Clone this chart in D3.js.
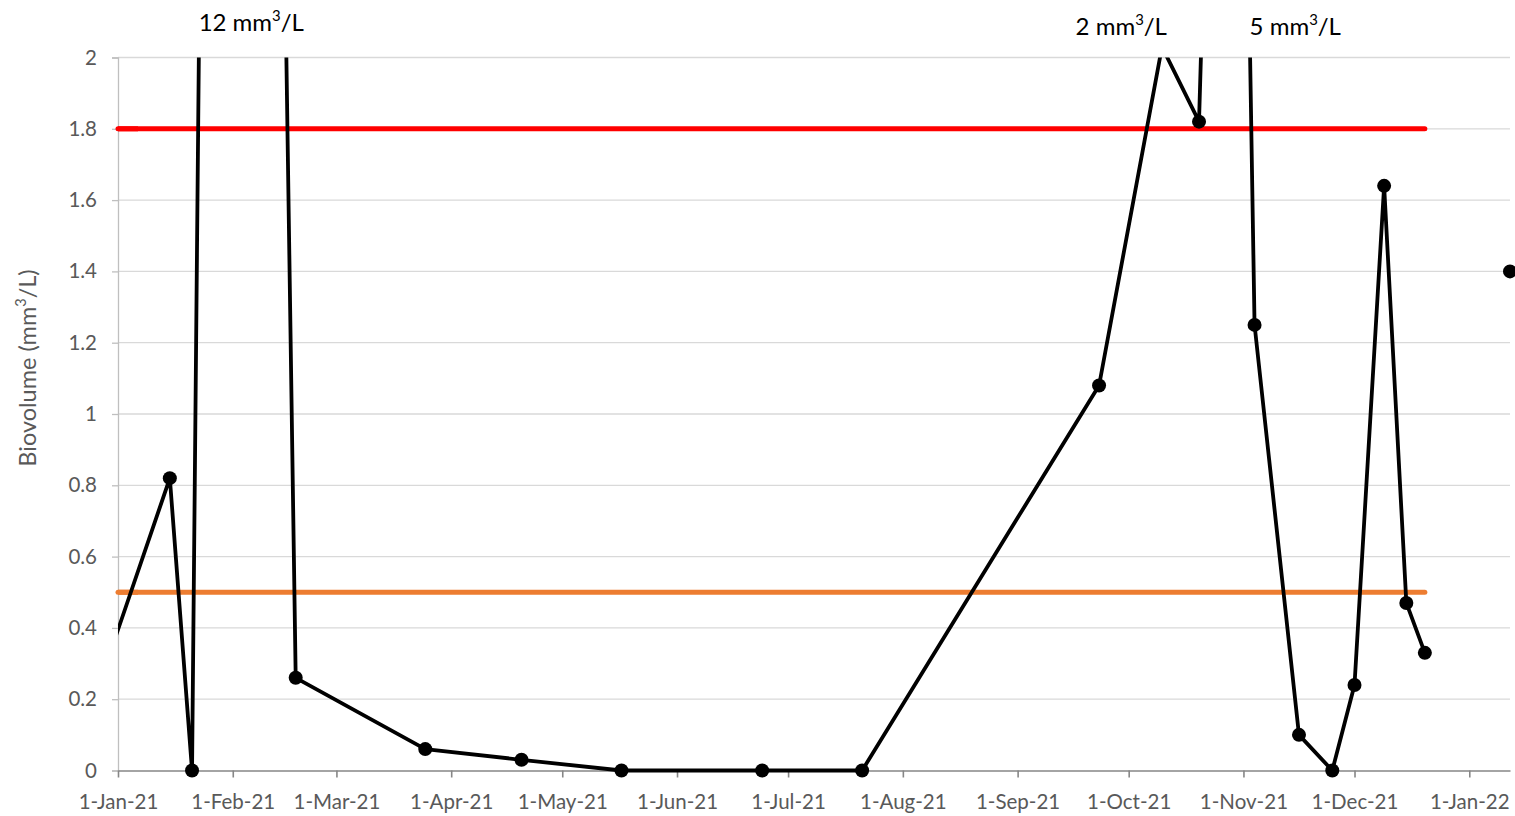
<!DOCTYPE html>
<html><head><meta charset="utf-8">
<script src="https://cdn.jsdelivr.net/npm/d3@7"></script>
<style>
html,body{margin:0;padding:0;background:#fff;}
svg{display:block;font-family:Lato,"Open Sans",sans-serif;}
</style></head>
<body><svg id="c" width="1515" height="816"></svg>
<script>
// ---- data ----
const sampleDates = ["2020-12-19","2021-01-15","2021-01-21","2021-02-01","2021-02-18","2021-03-25","2021-04-20","2021-05-17","2021-06-24","2021-07-21","2021-09-23","2021-10-10","2021-10-20","2021-10-29","2021-11-04","2021-11-16","2021-11-25","2021-12-01","2021-12-09","2021-12-15","2021-12-20"];
const biovolume   = [0, 0.82, 0, 12, 0.26, 0.06, 0.03, 0, 0, 0, 1.08, 2.03, 1.82, 5, 1.25, 0.10, 0, 0.24, 1.64, 0.47, 0.33];
const isolatedDates = ["2022-01-12"];
const isolatedValues = [1.40];
const thresholds = [{value:1.8, color:"#ff0000"}, {value:0.5, color:"#ed7d31"}];
const thresholdSpan = ["2021-01-01","2021-12-20"];
const yTicks = [0,0.2,0.4,0.6,0.8,1,1.2,1.4,1.6,1.8,2];
const xTickDates = ["2021-01-01","2021-02-01","2021-03-01","2021-04-01","2021-05-01","2021-06-01","2021-07-01","2021-08-01","2021-09-01","2021-10-01","2021-11-01","2021-12-01","2022-01-01"];
const annotations = [
  {value:"12", date:"2021-02-06", dy:31},
  {value:"2", date:"2021-09-29", dy:35},
  {value:"5", date:"2021-11-15", dy:35}
];
const unitParts = [" mm", "3", "/L"];
const yLabelParts = ["Biovolume (mm", "3", "/L)"];

// ---- setup ----
const parse = d3.timeParse("%Y-%m-%d");
const fmt = d3.timeFormat("%-d-%b-%y");
const L = 118, R = 1510, T = 57.5, B = 770.5;
const x = d3.scaleTime().domain([parse("2021-01-01"), parse("2022-01-12")]).range([L, R]);
const y = d3.scaleLinear().domain([0, 2]).range([B, T]);
const svg = d3.select("#c");
const FONT = "Lato, 'Open Sans', sans-serif";

const defs = svg.append("defs");
defs.append("clipPath").attr("id","plot").append("rect")
  .attr("x", L).attr("y", T).attr("width", 1515 - L).attr("height", 816 - T);

// gridlines
svg.append("g").selectAll("line").data(yTicks.filter(d => d > 0)).join("line")
  .attr("x1", L).attr("x2", R).attr("y1", d => y(d)).attr("y2", d => y(d))
  .attr("stroke", "#d9d9d9").attr("stroke-width", 1.3);

// y axis
const yAxis = svg.append("g").attr("transform", `translate(${L},0)`)
  .call(d3.axisLeft(y).tickValues(yTicks).tickSize(6).tickPadding(15).tickFormat(d3.format("~g")));
yAxis.select(".domain").attr("stroke", "#bfbfbf").attr("stroke-width", 1.3);
yAxis.selectAll(".tick line").attr("stroke", "#bfbfbf").attr("stroke-width", 1.3);
yAxis.selectAll("text").attr("fill", "#595959").attr("font-size", 20.5).attr("font-family", FONT);

// x axis
const xAxis = svg.append("g").attr("transform", `translate(0,${B})`)
  .call(d3.axisBottom(x).tickValues(xTickDates.map(parse)).tickSize(7).tickPadding(17).tickFormat(fmt).tickSizeOuter(0));
xAxis.select(".domain").attr("stroke", "#868686").attr("stroke-width", 1.6);
xAxis.selectAll(".tick line").attr("stroke", "#868686").attr("stroke-width", 1.6);
xAxis.selectAll("text").attr("fill", "#595959").attr("font-size", 20.5).attr("font-family", FONT);

// thresholds
svg.append("g").selectAll("line").data(thresholds).join("line")
  .attr("x1", x(parse(thresholdSpan[0]))).attr("x2", x(parse(thresholdSpan[1])))
  .attr("y1", d => y(d.value)).attr("y2", d => y(d.value))
  .attr("stroke", d => d.color).attr("stroke-width", 5).attr("stroke-linecap", "round");
svg.append("g").selectAll("line").data(thresholds).join("line")
  .attr("x1", x(parse(thresholdSpan[0]))).attr("x2", x(parse(thresholdSpan[0])) + 20)
  .attr("y1", d => y(d.value)).attr("y2", d => y(d.value))
  .attr("stroke", d => d.color).attr("stroke-width", 5);

// series
const pts = sampleDates.map((d, i) => ({date: parse(d), v: biovolume[i]}));
const line = d3.line().x(d => x(d.date)).y(d => y(d.v));
svg.append("path").datum(pts).attr("clip-path", "url(#plot)")
  .attr("d", line).attr("fill", "none").attr("stroke", "#000").attr("stroke-width", 3.8).attr("stroke-linejoin", "round");

const visible = pts.filter(d => d.date >= x.domain()[0] && d.v <= 2);
const iso = isolatedDates.map((d, i) => ({date: parse(d), v: isolatedValues[i]}));
svg.append("g").selectAll("circle").data(visible.concat(iso)).join("circle")
  .attr("cx", d => x(d.date)).attr("cy", d => y(d.v)).attr("r", 7).attr("fill", "#000");

// text with superscript
function addParts(sel, parts, size) {
  sel.append("tspan").text(parts[0]);
  sel.append("tspan").text(parts[1]).attr("font-size", size * 0.62).attr("dy", -size * 0.42);
  sel.append("tspan").text(parts[2]).attr("dy", size * 0.42);
}

// annotations
annotations.forEach(a => {
  const t = svg.append("text").attr("x", x(parse(a.date))).attr("y", a.dy)
    .attr("text-anchor", "middle").attr("font-size", 24).attr("fill", "#000").attr("font-family", FONT);
  t.append("tspan").text(a.value);
  addParts(t, unitParts, 24);
});

// y label
const yl = svg.append("text").attr("transform", "translate(36,368) rotate(-90)")
  .attr("text-anchor", "middle").attr("font-size", 23.5).attr("fill", "#595959").attr("font-family", FONT);
addParts(yl, yLabelParts, 23.5);
</script></body></html>
